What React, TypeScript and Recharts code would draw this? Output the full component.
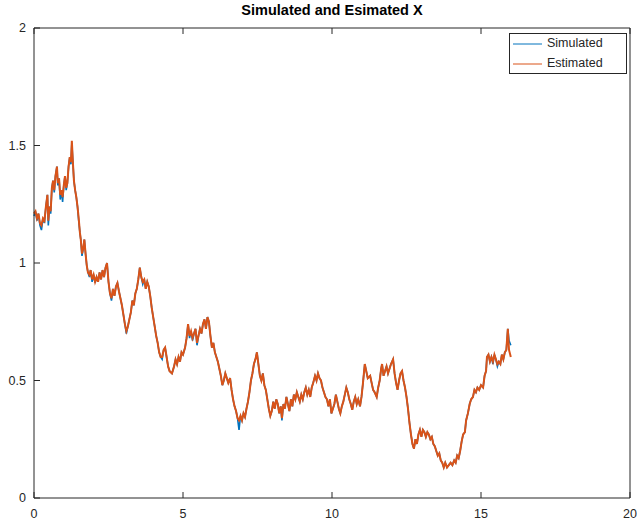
import React from 'react';
import { LineChart, Line, XAxis, YAxis } from 'recharts';

// sample times
const TIME = [
  0.00, 0.05, 0.10, 0.15, 0.20, 0.25, 0.30, 0.35, 0.40, 0.45,
  0.48, 0.52, 0.56, 0.60, 0.64, 0.68, 0.72, 0.77, 0.80, 0.84,
  0.88, 0.92, 0.96, 1.00, 1.04, 1.08, 1.12, 1.16, 1.20, 1.24,
  1.27, 1.30, 1.34, 1.38, 1.42, 1.46, 1.50, 1.54, 1.57, 1.61,
  1.65, 1.69, 1.73, 1.77, 1.81, 1.86, 1.90, 1.95, 2.00, 2.05,
  2.10, 2.15, 2.20, 2.25, 2.30, 2.35, 2.40, 2.45, 2.50, 2.55,
  2.60, 2.65, 2.70, 2.75, 2.80, 2.85, 2.90, 2.95, 3.00, 3.05,
  3.10, 3.15, 3.20, 3.25, 3.30, 3.35, 3.40, 3.45, 3.50, 3.55,
  3.60, 3.65, 3.70, 3.75, 3.80, 3.85, 3.90, 3.95, 4.00, 4.05,
  4.10, 4.15, 4.20, 4.25, 4.30, 4.35, 4.40, 4.45, 4.50, 4.55,
  4.63, 4.70, 4.75, 4.80, 4.85, 4.90, 4.95, 5.00, 5.07, 5.12,
  5.17, 5.22, 5.27, 5.32, 5.37, 5.42, 5.47, 5.52, 5.57, 5.62,
  5.67, 5.72, 5.77, 5.82, 5.87, 5.92, 5.97, 6.02, 6.07, 6.12,
  6.17, 6.22, 6.27, 6.32, 6.37, 6.42, 6.47, 6.52, 6.58, 6.63,
  6.68, 6.73, 6.78, 6.83, 6.88, 6.93, 6.98, 7.03, 7.08, 7.13,
  7.18, 7.23, 7.28, 7.33, 7.38, 7.43, 7.48, 7.53, 7.58, 7.63,
  7.68, 7.73, 7.78, 7.83, 7.88, 7.93, 7.98, 8.03, 8.08, 8.13,
  8.18, 8.23, 8.28, 8.32, 8.37, 8.42, 8.47, 8.52, 8.57, 8.62,
  8.67, 8.72, 8.77, 8.82, 8.87, 8.92, 8.97, 9.02, 9.07, 9.12,
  9.17, 9.22, 9.27, 9.32, 9.37, 9.43, 9.48, 9.53, 9.58, 9.63,
  9.68, 9.73, 9.78, 9.83, 9.88, 9.93, 9.98, 10.03, 10.08, 10.13,
  10.18, 10.23, 10.28, 10.33, 10.38, 10.43, 10.48, 10.53, 10.58, 10.63,
  10.68, 10.73, 10.78, 10.83, 10.88, 10.94, 10.99, 11.04, 11.10, 11.15,
  11.20, 11.28, 11.33, 11.38, 11.43, 11.50, 11.55, 11.60, 11.65, 11.68,
  11.73, 11.78, 11.83, 11.88, 11.93, 11.98, 12.05, 12.10, 12.15, 12.20,
  12.25, 12.30, 12.35, 12.40, 12.45, 12.50, 12.55, 12.60, 12.65, 12.70,
  12.75, 12.80, 12.85, 12.90, 12.95, 13.00, 13.05, 13.10, 13.15, 13.20,
  13.25, 13.30, 13.35, 13.40, 13.45, 13.50, 13.55, 13.60, 13.65, 13.70,
  13.75, 13.80, 13.86, 13.92, 13.98, 14.04, 14.10, 14.15, 14.20, 14.25,
  14.30, 14.35, 14.40, 14.46, 14.50, 14.56, 14.62, 14.67, 14.73, 14.78,
  14.83, 14.88, 14.94, 15.00, 15.07, 15.12, 15.17, 15.20, 15.25, 15.30,
  15.35, 15.40, 15.45, 15.50, 15.55, 15.60, 15.65, 15.70, 15.75, 15.80,
  15.85, 15.90, 15.94, 16.00,
];

const SIMULATED = [
  1.20, 1.22, 1.18, 1.21, 1.16, 1.14, 1.19, 1.17, 1.24, 1.29,
  1.16, 1.24, 1.21, 1.32, 1.35, 1.30, 1.37, 1.41, 1.33, 1.36,
  1.27, 1.31, 1.26, 1.33, 1.37, 1.31, 1.34, 1.41, 1.45, 1.42,
  1.51, 1.44, 1.35, 1.31, 1.28, 1.24, 1.18, 1.13, 1.10, 1.03,
  1.06, 1.10, 1.04, 0.99, 0.96, 0.94, 0.97, 0.92, 0.95, 0.915,
  0.94, 0.92, 0.96, 0.93, 0.97, 0.94, 0.98, 1.00, 0.92, 0.87,
  0.84, 0.89, 0.86, 0.90, 0.915, 0.88, 0.85, 0.82, 0.78, 0.74,
  0.70, 0.73, 0.76, 0.79, 0.84, 0.82, 0.87, 0.89, 0.93, 0.98,
  0.94, 0.91, 0.93, 0.89, 0.92, 0.90, 0.86, 0.81, 0.77, 0.73,
  0.69, 0.66, 0.62, 0.60, 0.59, 0.63, 0.64, 0.60, 0.56, 0.54,
  0.53, 0.56, 0.59, 0.57, 0.60, 0.58, 0.62, 0.61, 0.64, 0.68,
  0.74, 0.68, 0.71, 0.67, 0.70, 0.72, 0.65, 0.69, 0.72, 0.70,
  0.74, 0.76, 0.72, 0.77, 0.75, 0.69, 0.64, 0.66, 0.62, 0.60,
  0.58, 0.55, 0.52, 0.48, 0.50, 0.53, 0.51, 0.49, 0.51, 0.46,
  0.42, 0.39, 0.37, 0.34, 0.29, 0.35, 0.33, 0.36, 0.345, 0.38,
  0.41, 0.45, 0.50, 0.53, 0.57, 0.59, 0.62, 0.57, 0.52, 0.50,
  0.53, 0.48, 0.46, 0.42, 0.38, 0.35, 0.37, 0.41, 0.38, 0.42,
  0.40, 0.36, 0.39, 0.33, 0.40, 0.38, 0.43, 0.40, 0.37, 0.42,
  0.39, 0.44, 0.42, 0.45, 0.43, 0.41, 0.44, 0.42, 0.45, 0.47,
  0.44, 0.46, 0.43, 0.47, 0.49, 0.52, 0.50, 0.53, 0.51, 0.50,
  0.47, 0.45, 0.43, 0.42, 0.39, 0.42, 0.36, 0.38, 0.40, 0.44,
  0.41, 0.38, 0.36, 0.39, 0.41, 0.44, 0.47, 0.45, 0.42, 0.40,
  0.375, 0.41, 0.43, 0.40, 0.42, 0.39, 0.43, 0.49, 0.57, 0.54,
  0.51, 0.52, 0.49, 0.46, 0.45, 0.43, 0.47, 0.50, 0.55, 0.57,
  0.52, 0.54, 0.56, 0.53, 0.55, 0.57, 0.59, 0.53, 0.49, 0.46,
  0.50, 0.53, 0.54, 0.50, 0.47, 0.43, 0.38, 0.32, 0.27, 0.23,
  0.21, 0.25, 0.23, 0.27, 0.29, 0.26, 0.29, 0.28, 0.26, 0.28,
  0.27, 0.25, 0.26, 0.23, 0.22, 0.20, 0.18, 0.19, 0.16, 0.15,
  0.13, 0.15, 0.13, 0.14, 0.15, 0.14, 0.16, 0.15, 0.18, 0.17,
  0.20, 0.24, 0.27, 0.28, 0.33, 0.36, 0.40, 0.42, 0.43, 0.46,
  0.45, 0.47, 0.46, 0.48, 0.47, 0.52, 0.54, 0.60, 0.61, 0.58,
  0.60, 0.57, 0.61, 0.59, 0.56, 0.58, 0.57, 0.61, 0.59, 0.62,
  0.63, 0.72, 0.67, 0.65,
];

// the filter estimate follows the state closely; it only parts from it on a few sharp dips
const ESTIMATED = [
  1.21, 1.22, 1.19, 1.21, 1.17, 1.16, 1.19, 1.18, 1.24, 1.29,
  1.18, 1.24, 1.22, 1.32, 1.35, 1.31, 1.37, 1.41, 1.34, 1.36,
  1.29, 1.31, 1.28, 1.33, 1.37, 1.32, 1.34, 1.41, 1.45, 1.43,
  1.52, 1.44, 1.35, 1.31, 1.28, 1.24, 1.19, 1.13, 1.10, 1.04,
  1.06, 1.10, 1.04, 0.99, 0.96, 0.95, 0.97, 0.93, 0.95, 0.92,
  0.94, 0.92, 0.96, 0.93, 0.97, 0.94, 0.98, 1.00, 0.92, 0.87,
  0.85, 0.89, 0.86, 0.90, 0.915, 0.88, 0.85, 0.82, 0.78, 0.74,
  0.71, 0.73, 0.76, 0.79, 0.84, 0.82, 0.87, 0.89, 0.93, 0.98,
  0.94, 0.92, 0.93, 0.89, 0.92, 0.90, 0.86, 0.81, 0.77, 0.73,
  0.69, 0.66, 0.62, 0.60, 0.60, 0.63, 0.64, 0.60, 0.56, 0.54,
  0.53, 0.56, 0.59, 0.57, 0.60, 0.58, 0.62, 0.61, 0.64, 0.68,
  0.74, 0.69, 0.71, 0.68, 0.70, 0.72, 0.66, 0.69, 0.72, 0.70,
  0.74, 0.76, 0.72, 0.77, 0.75, 0.69, 0.64, 0.66, 0.62, 0.60,
  0.58, 0.55, 0.52, 0.48, 0.50, 0.53, 0.51, 0.49, 0.51, 0.46,
  0.42, 0.39, 0.37, 0.34, 0.33, 0.35, 0.33, 0.36, 0.345, 0.38,
  0.41, 0.45, 0.50, 0.53, 0.57, 0.59, 0.62, 0.57, 0.52, 0.50,
  0.53, 0.48, 0.46, 0.42, 0.38, 0.35, 0.37, 0.41, 0.38, 0.42,
  0.40, 0.36, 0.39, 0.34, 0.40, 0.38, 0.43, 0.40, 0.37, 0.42,
  0.39, 0.44, 0.42, 0.45, 0.43, 0.41, 0.44, 0.42, 0.45, 0.47,
  0.44, 0.46, 0.43, 0.47, 0.49, 0.52, 0.50, 0.53, 0.51, 0.50,
  0.47, 0.45, 0.43, 0.42, 0.39, 0.42, 0.36, 0.38, 0.40, 0.44,
  0.41, 0.38, 0.36, 0.39, 0.41, 0.44, 0.47, 0.45, 0.42, 0.40,
  0.375, 0.41, 0.43, 0.40, 0.42, 0.39, 0.43, 0.49, 0.57, 0.54,
  0.51, 0.52, 0.49, 0.46, 0.45, 0.43, 0.47, 0.50, 0.55, 0.57,
  0.52, 0.54, 0.56, 0.53, 0.55, 0.57, 0.59, 0.53, 0.49, 0.46,
  0.50, 0.53, 0.54, 0.50, 0.47, 0.43, 0.38, 0.32, 0.27, 0.23,
  0.21, 0.25, 0.23, 0.27, 0.29, 0.26, 0.29, 0.28, 0.26, 0.28,
  0.27, 0.25, 0.26, 0.23, 0.22, 0.20, 0.18, 0.19, 0.16, 0.15,
  0.13, 0.15, 0.13, 0.14, 0.15, 0.14, 0.16, 0.15, 0.18, 0.17,
  0.20, 0.24, 0.27, 0.28, 0.33, 0.36, 0.40, 0.42, 0.43, 0.46,
  0.45, 0.47, 0.46, 0.48, 0.47, 0.52, 0.54, 0.60, 0.61, 0.58,
  0.60, 0.58, 0.61, 0.59, 0.57, 0.58, 0.57, 0.61, 0.59, 0.62,
  0.63, 0.72, 0.63, 0.60,
];

const X_TICKS = [0, 5, 10, 15, 20];
const Y_TICKS = [0, 0.5, 1, 1.5, 2];

const SERIES = [
  { key: 'sim', name: 'Simulated', color: '#0072BD', width: 1.6 },
  { key: 'est', name: 'Estimated', color: '#D95319', width: 2 },
];

const data = TIME.map((t, i) => ({ t, sim: SIMULATED[i], est: ESTIMATED[i] }));

const AXIS_COLOR = '#262626';
const FONT = '"Liberation Sans", Arial, sans-serif';
const TICK_LEN = 6;

const W = 637;
const H = 525;
const MARGIN = { top: 27, right: 6, bottom: 5, left: 4 };
const Y_AXIS_W = 30;
const X_AXIS_H = 22;
const PLOT_LEFT = MARGIN.left + Y_AXIS_W;
const PLOT_RIGHT = W - MARGIN.right - 1;
const PLOT_TOP = MARGIN.top + 1;
const PLOT_BOTTOM = H - MARGIN.bottom - X_AXIS_H;

// legend box in the upper right corner
const LEG_X = 509;
const LEG_Y = 33;

// ticks point into the plot, as in MATLAB
const BottomTick = (props: any) => {
  const { x, payload } = props;
  return (
    <g>
      <line x1={x} x2={x} y1={PLOT_BOTTOM} y2={PLOT_BOTTOM - TICK_LEN} stroke={AXIS_COLOR} />
      <text x={x} y={PLOT_BOTTOM + 17} textAnchor="middle" dominantBaseline="middle" fill={AXIS_COLOR} fontSize={12.5} fontFamily={FONT}>
        {payload.value}
      </text>
    </g>
  );
};

const TopTick = (props: any) => {
  const { x } = props;
  return <line x1={x} x2={x} y1={PLOT_TOP} y2={PLOT_TOP + TICK_LEN} stroke={AXIS_COLOR} />;
};

const LeftTick = (props: any) => {
  const { y, payload } = props;
  return (
    <g>
      <line x1={PLOT_LEFT} x2={PLOT_LEFT + TICK_LEN} y1={y} y2={y} stroke={AXIS_COLOR} />
      <text x={PLOT_LEFT - 8} y={y + 1} textAnchor="end" dominantBaseline="middle" fill={AXIS_COLOR} fontSize={12.5} fontFamily={FONT}>
        {payload.value}
      </text>
    </g>
  );
};

const RightTick = (props: any) => {
  const { y } = props;
  return <line x1={PLOT_RIGHT} x2={PLOT_RIGHT - TICK_LEN} y1={y} y2={y} stroke={AXIS_COLOR} />;
};

export default function App() {
  return (
    <div style={{ position: 'absolute', left: 0, top: 0, width: W, height: H, background: '#fff' }}>
      <LineChart width={W} height={H} data={data} margin={MARGIN}>
        <text x={(PLOT_LEFT + PLOT_RIGHT) / 2} y={11} textAnchor="middle" dominantBaseline="middle" fontSize={14.5} fontWeight="bold" fontFamily={FONT} fill="#000">
          Simulated and Esimated X
        </text>
        <XAxis
          dataKey="t"
          type="number"
          domain={[0, 20]}
          ticks={X_TICKS}
          height={X_AXIS_H}
          tickLine={false}
          tick={BottomTick}
          axisLine={{ stroke: AXIS_COLOR }}
          interval={0}
        />
        <XAxis
          xAxisId="top"
          orientation="top"
          dataKey="t"
          type="number"
          domain={[0, 20]}
          ticks={X_TICKS}
          height={1}
          tickLine={false}
          tick={TopTick}
          axisLine={{ stroke: AXIS_COLOR }}
          interval={0}
        />
        <YAxis
          type="number"
          domain={[0, 2]}
          ticks={Y_TICKS}
          width={Y_AXIS_W}
          tickLine={false}
          tick={LeftTick}
          axisLine={{ stroke: AXIS_COLOR }}
          interval={0}
        />
        <YAxis
          yAxisId="right"
          orientation="right"
          type="number"
          domain={[0, 2]}
          ticks={Y_TICKS}
          width={1}
          tickLine={false}
          tick={RightTick}
          axisLine={{ stroke: AXIS_COLOR }}
          interval={0}
        />
        {SERIES.map((s) => (
          <Line
            key={s.key}
            name={s.name}
            dataKey={s.key}
            type="linear"
            stroke={s.color}
            strokeWidth={s.width}
            dot={false}
            isAnimationActive={false}
          />
        ))}
        <g>
          <rect x={LEG_X + 0.5} y={LEG_Y + 0.5} width={117} height={40} fill="#fff" stroke={AXIS_COLOR} />
          {SERIES.map((s, i) => (
            <g key={s.key}>
              <line x1={LEG_X + 4} x2={LEG_X + 33} y1={LEG_Y + 11 + i * 20} y2={LEG_Y + 11 + i * 20} stroke={s.color} strokeWidth={1} />
              <text x={LEG_X + 38} y={LEG_Y + 11 + i * 20} dominantBaseline="middle" fontSize={12.5} fontFamily={FONT} fill={AXIS_COLOR}>
                {s.name}
              </text>
            </g>
          ))}
        </g>
      </LineChart>
    </div>
  );
}
